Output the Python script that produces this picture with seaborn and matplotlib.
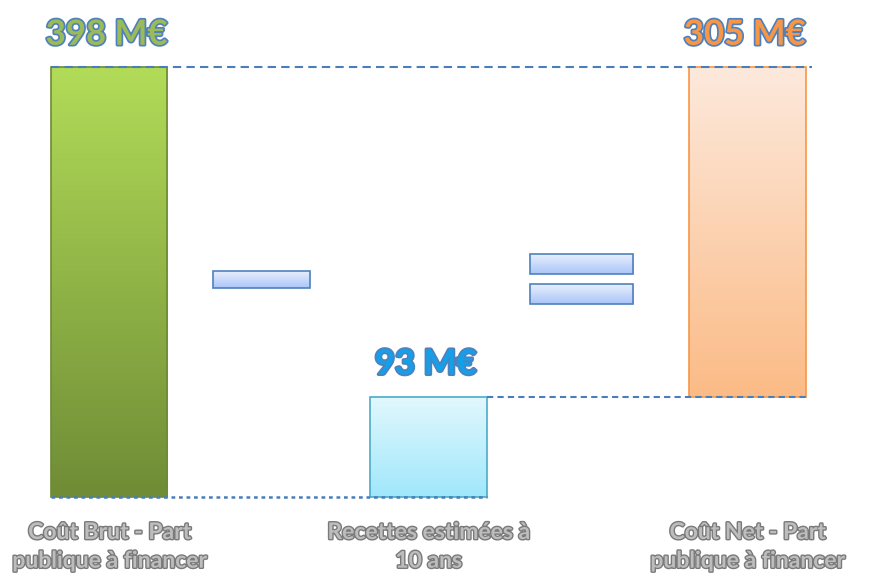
import numpy as np
import pandas as pd
import seaborn as sns
import matplotlib.pyplot as plt
import matplotlib.patheffects as pe
from matplotlib.colors import LinearSegmentedColormap
from matplotlib.patches import Rectangle

# waterfall: brut - recettes = net
categories = ["Coût Brut - Part\npublique à financer",
              "Recettes estimées à\n10 ans",
              "Coût Net - Part\npublique à financer"]
values = [398, 93, 305]
bottoms = [0, 0, 93]
value_labels = ["398 M€", "93 M€", "305 M€"]

grad_top = ["#b2dc58", "#e2f8fd", "#fde9dc"]
grad_bottom = ["#6f8c36", "#a0e7fb", "#fbbb86"]
edge_cols = ["#6f8a34", "#4bacc6", "#f79646"]
text_cols = ["#9bbb59", "#14a0e8", "#f79646"]
line_blue = "#4a7ebb"

df = pd.DataFrame({"cat": categories, "val": values, "base": bottoms})

sns.set_theme(style="white")
plt.rcParams["font.family"] = ["Lato", "DejaVu Sans"]

fig = plt.figure(figsize=(8.7, 5.75), dpi=100)
ax = fig.add_axes([0, 0, 1, 1])
sns.barplot(data=df, x="cat", y="val", bottom=df["base"].values, width=0.364,
            color="white", errorbar=None, ax=ax)
ax.set_xlim(-0.343, 2.384)
ax.set_ylim(-72.2, 460)
ax.set_axis_off()

bars = list(ax.patches)
grad = np.linspace(0, 1, 256).reshape(-1, 1)


def gradient_fill(patch, top, bot, z=1):
    x0, y0 = patch.get_x(), patch.get_y()
    w, h = patch.get_width(), patch.get_height()
    cmap = LinearSegmentedColormap.from_list("g", [bot, top])
    im = ax.imshow(grad, cmap=cmap, extent=[x0, x0 + w, y0, y0 + h],
                   origin="lower", aspect="auto", zorder=z)
    im.set_clip_path(patch)


for patch, top, bot, edge in zip(bars, grad_top, grad_bottom, edge_cols):
    gradient_fill(patch, top, bot)
    patch.set_facecolor("none")
    patch.set_edgecolor(edge)
    patch.set_linewidth(1.2)
    patch.set_zorder(2)

# connector lines
b0, b1, b2 = bars
ax.plot([b0.get_x(), b2.get_x() + b2.get_width() + 0.02], [values[0]] * 2,
        color=line_blue, lw=1.5, ls=(0, (4, 2.5)), zorder=3)
ax.plot([b0.get_x(), b1.get_x() + b1.get_width()], [0, 0],
        color=line_blue, lw=1.8, ls=(0, (1.5, 1.5)), zorder=3)
ax.plot([b1.get_x() + b1.get_width(), b2.get_x() + b2.get_width()], [bottoms[2]] * 2,
        color=line_blue, lw=1.5, ls=(0, (3, 2)), zorder=3)

# minus and equals signs
signs = [(0.476, 201.4, 0.304, 15.7),
         (1.48, 215.7, 0.323, 18.5),
         (1.48, 188.0, 0.323, 18.5)]
for cx, cy, w, h in signs:
    r = Rectangle((cx - w / 2, cy - h / 2), w, h, facecolor="none",
                  edgecolor="#4f81bd", lw=1.2, zorder=4)
    ax.add_patch(r)
    gradient_fill(r, "#e8effd", "#a9c5f8", z=3)

# value labels
for i, (v, b, lab, c) in enumerate(zip(values, bottoms, value_labels, text_cols)):
    t = ax.annotate(lab, xy=(i, v + b), xytext=(-2, 16), textcoords="offset points",
                    ha="center", va="baseline", fontsize=25, fontweight="bold", color=c)
    t.set_path_effects([pe.withStroke(linewidth=2.5, foreground="#4f81bd")])

# category labels
for i, lab in enumerate(categories):
    t = ax.annotate(lab, xy=(i, 0), xytext=(0, -18), textcoords="offset points",
                    ha="center", va="top", fontsize=16.5, fontweight="bold",
                    color="#bdbdbd", linespacing=1.45)
    t.set_path_effects([pe.withStroke(linewidth=2, foreground="#7a7a7a")])

fig.savefig("out.png", dpi=100)
